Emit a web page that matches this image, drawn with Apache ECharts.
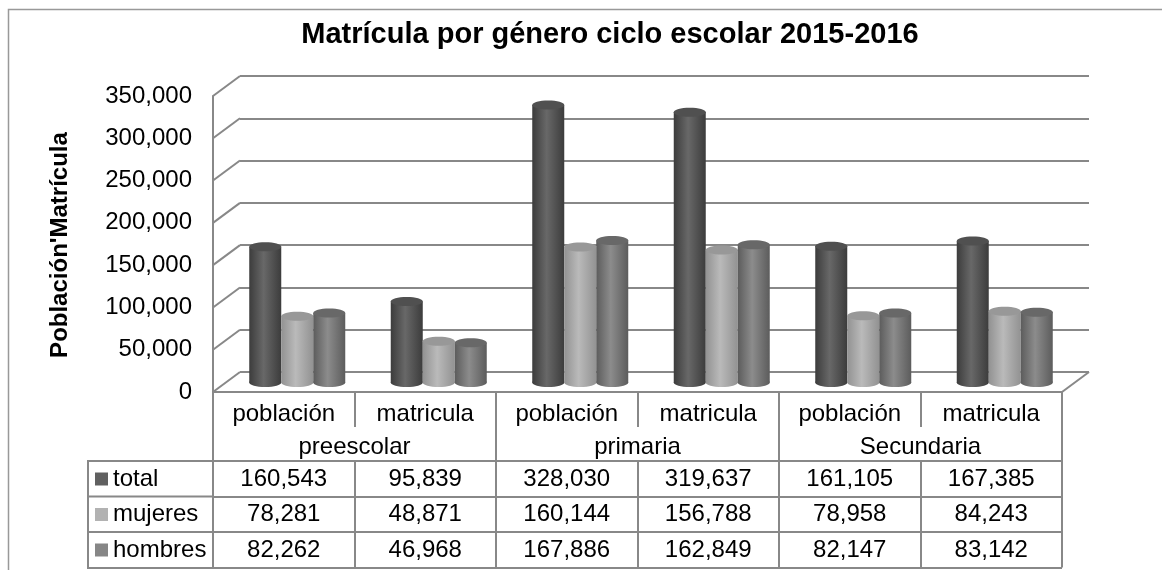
<!DOCTYPE html>
<html>
<head>
    <meta charset="utf-8">
    <title>Matrícula por género</title>
    <script src="https://cdn.jsdelivr.net/npm/echarts@6/dist/echarts.min.js"></script>
    <style>
        html, body { margin: 0; padding: 0; background: #fff; overflow: hidden; }
        #main { width: 1162px; height: 570px; }
    </style>
</head>
<body>
    <div id="main"></div>
    <script type="text/javascript">
        var categories = ['población', 'matricula', 'población', 'matricula', 'población', 'matricula'];
        var levels = ['preescolar', 'primaria', 'Secundaria'];
        var yTicks = [0, 50000, 100000, 150000, 200000, 250000, 300000, 350000];
        var total = [160543, 95839, 328030, 319637, 161105, 167385];
        var mujeres = [78281, 48871, 160144, 156788, 78958, 84243];
        var hombres = [82262, 46968, 167886, 162849, 82147, 83142];

        var LINE = '#888888';
        var FONT = 'Liberation Sans';
        var LABEL = 24;
        function fmt(v) { return Number(v).toLocaleString('en-US'); }

        var myChart = echarts.init(document.getElementById('main'));

        // front wall, bar plane and back wall are three grids shifted along the depth
        function gridAt(dx, dy) {
            return { left: 213 + dx, width: 849, top: 96 - dy, height: 296 };
        }

        function hiddenX(i) {
            return { type: 'category', gridIndex: i, data: categories, show: false };
        }
        function rowAxis(values, offset) {
            return {
                type: 'category', gridIndex: 0, position: 'bottom', offset: offset,
                data: values.map(fmt),
                axisLine: { onZero: false, lineStyle: { color: LINE, width: 2 } },
                axisTick: { show: true, length: 35.5, lineStyle: { color: LINE, width: 2 } },
                axisLabel: { interval: 0, margin: 6, color: '#000', fontSize: LABEL, fontFamily: FONT }
            };
        }

        function cylinder(seriesIndex, stops, topColor) {
            return function (params, api) {
                var idx = api.value(0);
                var barW = 32;
                var top = api.coord([idx, api.value(1)]);
                var base = api.coord([idx, 0]);
                var cx = top[0] + (seriesIndex - 1) * barW;
                var rx = barW / 2;
                var ry = 4.5;
                var fill = new echarts.graphic.LinearGradient(0, 0, 1, 0, [
                    { offset: 0, color: stops[0] },
                    { offset: 0.45, color: stops[1] },
                    { offset: 1, color: stops[0] }
                ]);
                return {
                    type: 'group',
                    children: [
                        { type: 'ellipse', shape: { cx: cx, cy: base[1], rx: rx, ry: ry }, style: { fill: fill } },
                        { type: 'rect', shape: { x: cx - rx, y: top[1], width: barW, height: base[1] - top[1] }, style: { fill: fill } },
                        { type: 'ellipse', shape: { cx: cx, cy: top[1], rx: rx, ry: ry }, style: { fill: topColor } }
                    ]
                };
            };
        }

        function barSeries(name, values, i, color, stops, topColor) {
            return {
                name: name, type: 'custom', xAxisIndex: 5, yAxisIndex: 1,
                itemStyle: { color: color },
                encode: { x: 0, y: 1 },
                data: values.map(function (v, k) { return [k, v]; }),
                renderItem: cylinder(i, stops, topColor)
            };
        }

        var option = {
            animation: false,
            title: {
                text: 'Matrícula por género ciclo escolar 2015-2016',
                left: 610, top: 20, textAlign: 'center', padding: 0,
                textStyle: { color: '#000', fontSize: 29, fontWeight: 'bold', fontFamily: FONT }
            },
            legend: {
                data: ['total', 'mujeres', 'hombres'],
                orient: 'vertical', left: 95, top: 467, padding: 0,
                icon: 'rect', itemWidth: 13, itemHeight: 13, itemGap: 11.5,
                selectedMode: false,
                textStyle: { color: '#000', fontSize: LABEL, lineHeight: 24, fontFamily: FONT }
            },
            grid: [gridAt(0, 0), gridAt(13.5, 9.5), gridAt(27, 20)],
            xAxis: [
                {
                    type: 'category', gridIndex: 0, position: 'bottom', data: categories,
                    axisLine: { onZero: false, lineStyle: { color: LINE, width: 2 } },
                    axisTick: { show: true, length: 35, lineStyle: { color: LINE, width: 2 } },
                    axisLabel: { interval: 0, margin: 10, color: '#000', fontSize: LABEL, fontFamily: FONT }
                },
                {
                    type: 'category', gridIndex: 0, position: 'bottom', data: levels,
                    axisLine: { show: false, onZero: false },
                    axisTick: { show: true, length: 69, lineStyle: { color: LINE, width: 2 } },
                    axisLabel: { interval: 0, margin: 43, color: '#000', fontSize: LABEL, fontFamily: FONT }
                },
                rowAxis(total, 69),
                rowAxis(mujeres, 104.5),
                rowAxis(hombres, 140),
                hiddenX(1),
                hiddenX(2)
            ],
            yAxis: [
                {
                    type: 'value', gridIndex: 0, min: 0, max: 350000, interval: 50000,
                    axisLine: { show: true, onZero: false, lineStyle: { color: LINE, width: 2 } },
                    axisTick: { show: false },
                    splitLine: { show: false },
                    axisLabel: { margin: 21, color: '#000', fontSize: LABEL, fontFamily: FONT, formatter: fmt }
                },
                {
                    type: 'value', gridIndex: 1, min: 0, max: 350000, interval: 50000,
                    show: false, splitLine: { show: false }
                },
                {
                    type: 'value', gridIndex: 2, min: 0, max: 350000, interval: 50000,
                    axisLine: { show: false }, axisTick: { show: false }, axisLabel: { show: false },
                    splitLine: { show: true, showMinLine: true, showMaxLine: true, lineStyle: { color: LINE, width: 2 } }
                }
            ],
            series: [
                {
                    // wall and floor diagonals
                    type: 'custom', xAxisIndex: 0, yAxisIndex: 0, silent: true, z: 1,
                    data: yTicks.map(function (t) { return [0, t]; }),
                    encode: { x: 0, y: 1 },
                    renderItem: function (params, api) {
                        var y = api.coord([0, api.value(1)])[1];
                        var x0 = params.coordSys.x;
                        var lineStyle = { stroke: LINE, lineWidth: 2, fill: null };
                        var kids = [{ type: 'line', shape: { x1: x0, y1: y, x2: x0 + 27, y2: y - 20 }, style: lineStyle }];
                        if (api.value(1) === 0) {
                            var x1 = x0 + params.coordSys.width;
                            kids.push({ type: 'line', shape: { x1: x1, y1: y, x2: x1 + 27, y2: y - 20 }, style: lineStyle });
                        }
                        return { type: 'group', children: kids };
                    }
                },
                barSeries('total', total, 0, '#606060', ['#3c3c3c', '#686868'], '#505050'),
                barSeries('mujeres', mujeres, 1, '#b2b2b2', ['#929292', '#bababa'], '#989898'),
                barSeries('hombres', hombres, 2, '#868686', ['#5c5c5c', '#8c8c8c'], '#686868')
            ],
            graphic: [
                { type: 'polyline', shape: { points: [[8.5, 570], [8.5, 9.5], [1162, 9.5]] }, style: { stroke: '#999999', lineWidth: 1.5, fill: null } },
                { type: 'polyline', shape: { points: [[213, 461], [88, 461], [88, 568], [1062, 568]] }, style: { stroke: LINE, lineWidth: 2, fill: null } },
                { type: 'line', shape: { x1: 88, y1: 496.5, x2: 213, y2: 496.5 }, style: { stroke: LINE, lineWidth: 2 } },
                { type: 'line', shape: { x1: 88, y1: 532, x2: 213, y2: 532 }, style: { stroke: LINE, lineWidth: 2 } },
                {
                    type: 'text', x: 60, y: 245, rotation: Math.PI / 2,
                    style: { text: "Población'Matrícula", fill: '#000', font: 'bold 24px "Liberation Sans"', textAlign: 'center', textVerticalAlign: 'middle' }
                }
            ]
        };

        myChart.setOption(option);
    </script>
</body>
</html>
